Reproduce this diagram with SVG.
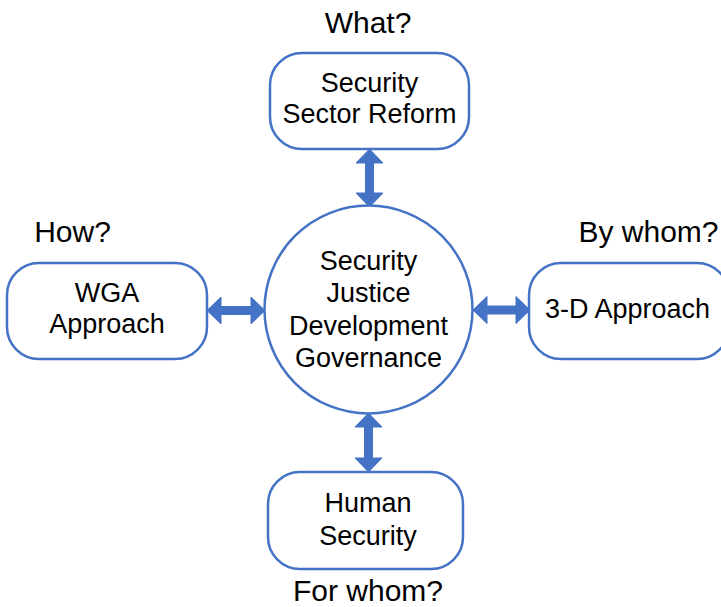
<svg xmlns="http://www.w3.org/2000/svg" width="721" height="607" viewBox="0 0 721 607">
<style>
.box{fill:#fff;stroke:#4472C4;stroke-width:2.5}
.arr{fill:#4472C4;stroke:#4472C4;stroke-width:1;stroke-linejoin:miter}
.t{font-family:"Liberation Sans",Arial,sans-serif;font-size:27px;fill:#000;text-anchor:middle}
.q{font-family:"Liberation Sans",Arial,sans-serif;font-size:30px;fill:#000;text-anchor:middle}
</style>
<rect width="721" height="607" fill="#fff"/>
<g id="connectors">
<path class="arr" d="M369.5,149 L383,163 L373.5,163 L373.5,193 L383,193 L369.5,207 L356,193 L365.5,193 L365.5,163 L356,163 Z"/>
<path class="arr" d="M368.5,413 L382,427 L372.5,427 L372.5,458 L382,458 L368.5,472 L355,458 L364.5,458 L364.5,427 L355,427 Z"/>
<path class="arr" d="M207,310.5 L221,297 L221,306.5 L251,306.5 L251,297 L265,310.5 L251,324 L251,314.5 L221,314.5 L221,324 Z"/>
<path class="arr" d="M473,310 L487,296.5 L487,306 L516,306 L516,296.5 L530,310 L516,323.5 L516,314 L487,314 L487,323.5 Z"/>
</g>
<g id="center">
<circle class="box" cx="368.5" cy="309.5" r="104"/>
<text class="t" x="368.5" y="270">Security</text>
<text class="t" x="368.5" y="302">Justice</text>
<text class="t" x="368.5" y="335">Development</text>
<text class="t" x="368.5" y="367">Governance</text>
</g>
<g id="top">
<rect class="box" x="270" y="53" width="199" height="96" rx="32" ry="32"/>
<text class="t" x="369.5" y="92">Security</text>
<text class="t" x="369.5" y="123">Sector Reform</text>
<text class="q" x="368" y="33">What?</text>
</g>
<g id="left">
<rect class="box" x="7" y="263" width="200" height="96" rx="32" ry="32"/>
<text class="t" x="107" y="302">WGA</text>
<text class="t" x="107" y="333">Approach</text>
<text class="q" x="72.5" y="242">How?</text>
</g>
<g id="right">
<rect class="box" x="529" y="263" width="200" height="96" rx="32" ry="32"/>
<text class="t" x="627.5" y="318">3-D Approach</text>
<text class="q" x="648.5" y="242">By whom?</text>
</g>
<g id="bottom">
<rect class="box" x="268" y="472" width="195" height="97" rx="32" ry="32"/>
<text class="t" x="368" y="512">Human</text>
<text class="t" x="368" y="545">Security</text>
<text class="q" x="368" y="601">For whom?</text>
</g>
</svg>
